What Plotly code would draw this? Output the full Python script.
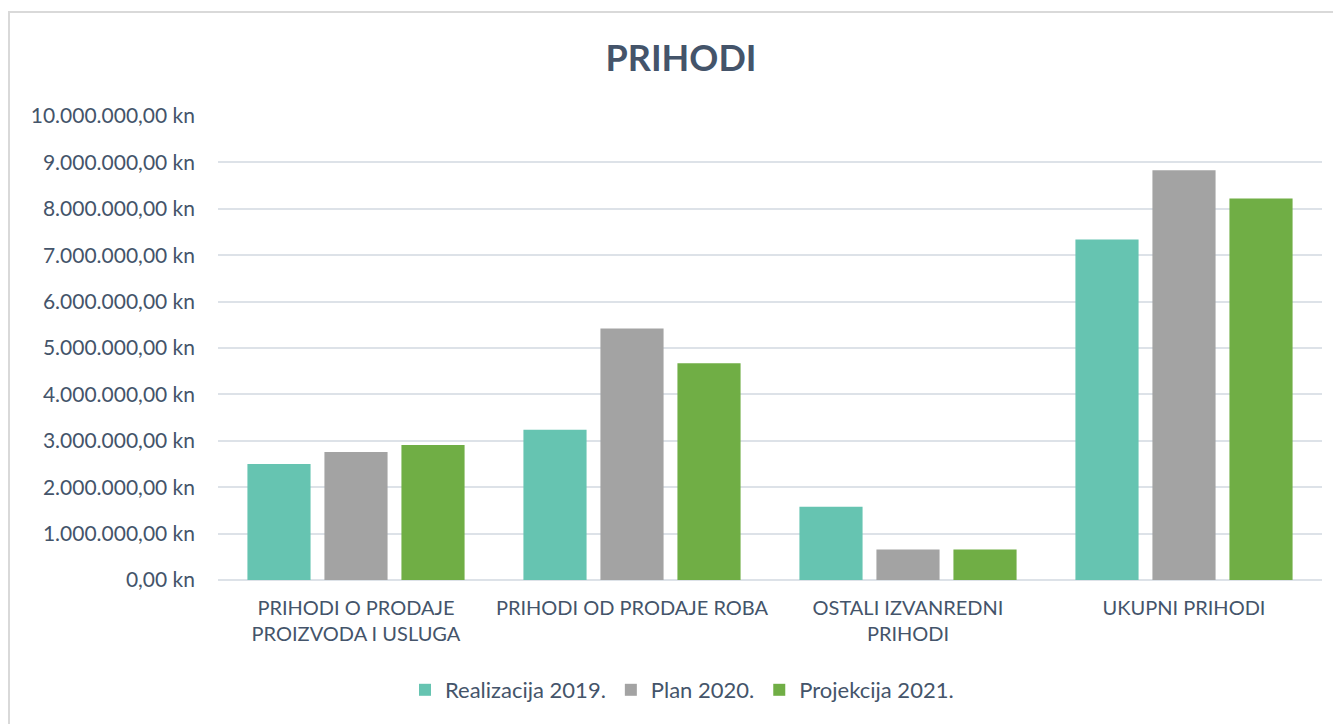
import plotly.graph_objects as go

categories = ["PRIHODI O PRODAJE<br>PROIZVODA I USLUGA", "PRIHODI OD PRODAJE ROBA",
              "OSTALI IZVANREDNI<br>PRIHODI", "UKUPNI PRIHODI"]
realizacija_2019 = [2500000, 3240000, 1580000, 7340000]
plan_2020 = [2760000, 5420000, 660000, 8830000]
projekcija_2021 = [2910000, 4670000, 660000, 8220000]
tick_values = [0, 1000000, 2000000, 3000000, 4000000, 5000000, 6000000, 7000000, 8000000, 9000000, 10000000]
tick_labels = ["0,00 kn", "1.000.000,00 kn", "2.000.000,00 kn", "3.000.000,00 kn", "4.000.000,00 kn",
               "5.000.000,00 kn", "6.000.000,00 kn", "7.000.000,00 kn", "8.000.000,00 kn",
               "9.000.000,00 kn", "10.000.000,00 kn"]

TEXT = "#44546A"
FONT = "Lato"

fig = go.Figure()
fig.add_trace(go.Bar(name="Realizacija 2019.", x=categories, y=realizacija_2019,
                     marker=dict(color="#66C4B1", line=dict(width=0))))
fig.add_trace(go.Bar(name="Plan 2020.", x=categories, y=plan_2020,
                     marker=dict(color="#A3A3A3", line=dict(width=0))))
fig.add_trace(go.Bar(name="Projekcija 2021.", x=categories, y=projekcija_2021,
                     marker=dict(color="#70AE45", line=dict(width=0))))

# page body has an 8px margin, so figure coordinates = screen coordinates - 8
W, H = 1333, 716
L, R, T, B = 210, 19, 108, 143.5
pw, ph = W - L - R, H - T - B

def px_x(px):
    return (px - L) / pw

def px_y(py):
    return (H - B - py) / ph

fig.update_layout(
    width=W, height=H,
    margin=dict(l=L, r=R, t=T, b=B, autoexpand=False),
    paper_bgcolor="white", plot_bgcolor="white",
    barmode="group", bargap=0.163, bargroupgap=0.18,
    font=dict(family=FONT, color=TEXT, size=21),
    title=dict(text="<b>PRIHODI</b>", x=673 / W, xref="container", xanchor="center",
               y=1 - 50 / H, yref="container", yanchor="middle",
               font=dict(family=FONT, size=36, color=TEXT)),
    legend=dict(orientation="h", x=674 / W, xref="container", xanchor="center",
                y=1 - 682 / H, yref="container", yanchor="middle",
                font=dict(family=FONT, size=22, color=TEXT), traceorder="normal",
                itemwidth=30),
    xaxis=dict(showgrid=False, showline=False, ticks="", ticklabelstandoff=14,
               tickfont=dict(size=20, color=TEXT)),
    yaxis=dict(range=[0, 10000000], tickvals=tick_values, ticktext=tick_labels,
               showgrid=True, gridcolor="#DDE2E8", gridwidth=2, zeroline=True,
               zerolinecolor="#DDE2E8", zerolinewidth=2, showline=False, ticks="",
               ticklabelstandoff=22, tickfont=dict(size=21, color=TEXT)),
    shapes=[dict(type="rect", xref="paper", yref="paper",
                 x0=px_x(1), x1=px_x(1360), y0=px_y(4), y1=px_y(760),
                 line=dict(color="#D9D9D9", width=2), fillcolor="rgba(0,0,0,0)", layer="below")],
)

fig.write_html("out.html")
